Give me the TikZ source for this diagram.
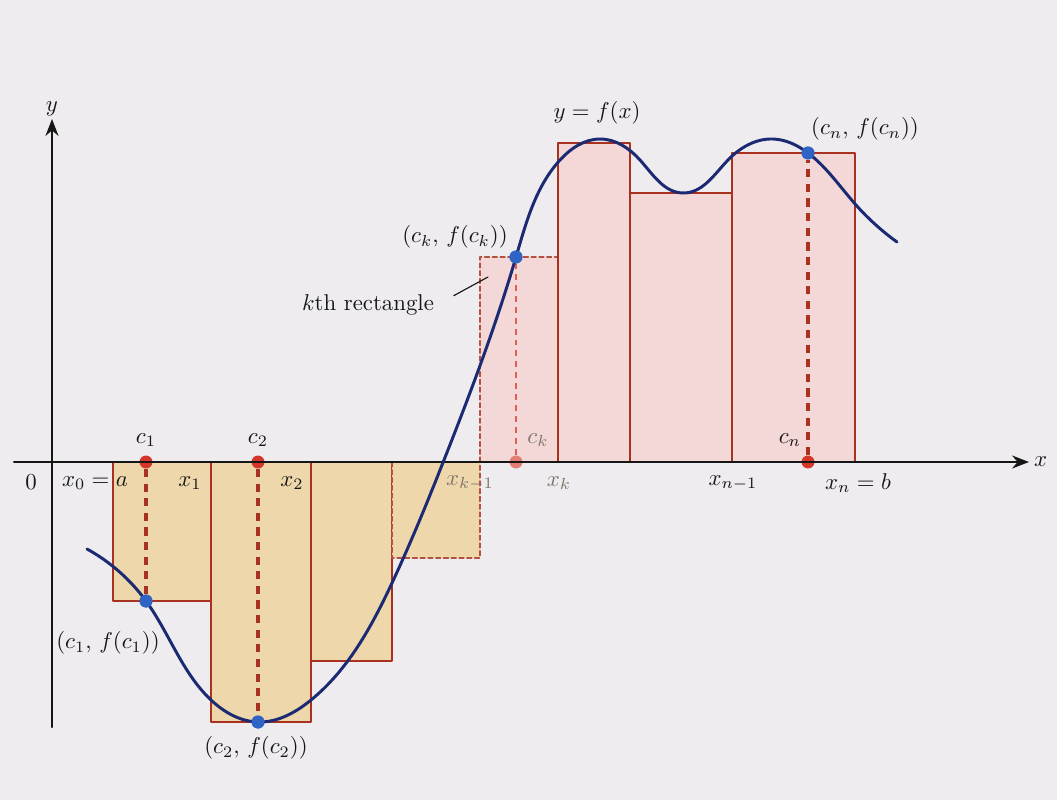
\documentclass[tikz,border=0pt]{standalone}
\usepackage{amsmath,amssymb}
\usepackage{xcolor}
\usepackage{tikz}
\usetikzlibrary{arrows.meta,positioning,calc,hobby}
\definecolor{paper}{HTML}{EEECEF}
\definecolor{ink}{HTML}{161616}
\definecolor{curveblue}{HTML}{1B2A72}
\definecolor{rectred}{HTML}{A8321F}
\definecolor{softtan}{HTML}{EDD7AB}
\definecolor{softpink}{HTML}{F4D8D7}
\definecolor{dotred}{HTML}{D4372A}
\definecolor{dotblue}{HTML}{2F63C4}
\definecolor{fadedink}{HTML}{7E746A}
\tikzset{
    every picture/.style={line cap=round,line join=round},
    axisline/.style={-{Stealth[length=2.6mm,width=2mm]},draw=ink,line width=0.9pt},
    lowrect/.style={draw=rectred,fill=softtan,line width=0.6pt},
    highrect/.style={draw=rectred,fill=softpink,line width=0.6pt},
    faintedge/.style={draw=rectred!85,dash pattern=on 2.2pt off 1.2pt,line width=0.45pt},
    lowfaint/.style={lowrect,faintedge},
    highfaint/.style={highrect,faintedge},
    sampleline/.style={draw=rectred,line width=1.5pt,dash pattern=on 3.6pt off 2.8pt,line cap=butt},
    graphline/.style={draw=curveblue,line width=1.3pt},
    axisdot/.style={circle,fill=dotred,inner sep=0pt,minimum size=2mm},
    graphdot/.style={circle,fill=dotblue,inner sep=0pt,minimum size=2mm},
    ticklabel/.style={inner sep=1pt,text=ink},
    fadedlabel/.style={inner sep=1pt,text=fadedink},
    leader/.style={draw=ink,line width=0.5pt}
}

\begin{document}
\begin{tikzpicture}[x=0.0154cm,y=-0.0154cm]
    \fill[paper] (0,0) rectangle (1057,800);
    \useasboundingbox (0,0) rectangle (1057,800);
    % rectangles of the partition
    \foreach \l/\r/\h/\s in {113/211/601/lowrect, 211/311/722/lowrect, 311/392/661/lowrect,
        392/480/558/lowfaint, 480/558/257/highfaint,
        558/630/143/highrect, 630/732/193/highrect, 732/855/153/highrect}
        \draw[\s] (\l,462) rectangle (\r,\h);
    % sample points
    \node[axisdot] (c1) at (146,462) {};
    \node[axisdot] (c2) at (258,462) {};
    \node[axisdot,fill=dotred!65] (ck) at (516,462) {};
    \node[axisdot] (cn) at (808,462) {};
    \node[graphdot] (p1) at (146,601) {};
    \node[graphdot] (p2) at (258,722) {};
    \node[graphdot] (pk) at (516,257) {};
    \node[graphdot] (pn) at (808,153) {};
    \draw[sampleline] (c1) -- (p1);
    \draw[sampleline] (c2) -- (p2);
    \draw[sampleline,draw=dotred!80,line width=1.1pt,dash pattern=on 2.6pt off 2.2pt] (ck) -- (pk);
    \draw[sampleline] (cn) -- (pn);
    % axes
    \coordinate (xstart) at (14,462);
    \coordinate (xend) at (1029,462);
    \coordinate (ystart) at (52,727);
    \coordinate (yend) at (52,119);
    \draw[axisline] (xstart) -- (xend);
    \draw[axisline] (ystart) -- (yend);
    \node[ticklabel,right=1pt of xend] (xlab) {$x$};
    \node[ticklabel,above=0pt of yend] (ylab) {$y$};
    % the graph
    \draw[graphline] (87,549) to[curve through={(146,601) .. (211,700) .. (258,722)
        .. (311,700) .. (392,583) .. (444,460) .. (516,257) .. (560,160) .. (600,139)
        .. (640,160) .. (683,193) .. (728,160) .. (773,139) .. (808,153) .. (856,205)}]
        (897,242);
    \node[graphdot] at (p1) {};
    \node[graphdot] at (p2) {};
    \node[graphdot] at (pk) {};
    \node[graphdot] at (pn) {};
    % labels on the x-axis
    \node[ticklabel] (zero) at (31,482) {$0$};
    \node[ticklabel] (xa) at (95,483) {$x_0 = a$};
    \node[ticklabel] (xone) at (190,483) {$x_1$};
    \node[ticklabel] (xtwo) at (292,483) {$x_2$};
    \node[fadedlabel] (xkm) at (470,483) {$x_{k-1}$};
    \node[fadedlabel] (xk) at (559,483) {$x_k$};
    \node[ticklabel] (xnm) at (733,483) {$x_{n-1}$};
    \node[ticklabel] (xb) at (858,483) {$x_n = b$};
    \node[ticklabel] (c1lab) at (146,440) {$c_1$};
    \node[ticklabel] (c2lab) at (258,440) {$c_2$};
    \node[fadedlabel] (cklab) at (538,440) {$c_k$};
    \node[ticklabel] (cnlab) at (790,440) {$c_n$};
    % labels of the points
    \node[ticklabel] (p1lab) at (108,643) {$(c_1,\, f(c_1))$};
    \node[ticklabel] (p2lab) at (256,748) {$(c_2,\, f(c_2))$};
    \node[ticklabel] (pklab) at (455,237) {$(c_k,\, f(c_k))$};
    \node[ticklabel] (pnlab) at (865,129) {$(c_n,\, f(c_n))$};
    \node[ticklabel] (fname) at (597,113) {$y = f(x)$};
    \node[ticklabel] (krect) at (368,305) {$k$th rectangle};
    \coordinate (kin) at (488,277);
    \draw[leader,shorten <=3mm] (krect.east) -- (kin);
\end{tikzpicture}
\end{document}
